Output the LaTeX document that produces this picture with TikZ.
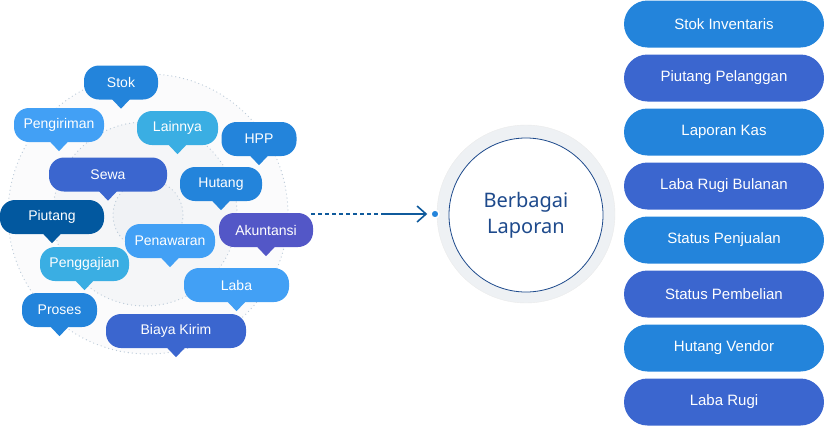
\documentclass[tikz,border=0pt]{standalone}
\usepackage{fontspec}
\setmainfont{Liberation Sans}
\newfontfamily\lapfont{Noto Sans}
\usetikzlibrary{arrows.meta}

\definecolor{midblue}{HTML}{2384DB}
\definecolor{skyblue}{HTML}{42A0F5}
\definecolor{cyanblue}{HTML}{3AAEE3}
\definecolor{royal}{HTML}{3B66CF}
\definecolor{deepblue}{HTML}{02589F}
\definecolor{indigo}{HTML}{5357C7}
\definecolor{navy}{HTML}{1E4A8C}
\definecolor{linecol}{HTML}{0F5A9C}
\definecolor{dotcol}{HTML}{BCCBD9}
\definecolor{ringcol}{HTML}{EEF1F4}
\definecolor{bgA}{HTML}{FBFBFC}
\definecolor{bgB}{HTML}{F5F6F8}
\definecolor{bgC}{HTML}{F0F2F5}

% tail under a speech bubble
\newcommand{\tail}[2]{\fill[#2] ([xshift=-9pt,yshift=0.5pt]#1.south) -- ([xshift=9pt,yshift=0.5pt]#1.south) -- ([yshift=-9pt]#1.south) -- cycle;}

\begin{document}
\begin{tikzpicture}[x=1pt, y=-1pt,
    bubble/.style={rounded corners=15pt, minimum height=34pt, inner sep=0pt, text=white, font=\fontsize{14}{16}\selectfont},
    pill/.style={rounded corners=23.5pt, minimum width=200pt, minimum height=47pt, inner sep=0pt, text=white, font=\fontsize{15}{18}\selectfont},
    dotring/.style={draw=dotcol, line width=1.3pt, dash pattern=on 0pt off 4pt, line cap=round}]

    \useasboundingbox (0,0) rectangle (824,426);

    % background rings
    \filldraw[dotring, fill=bgA] (148,214) circle (140pt);
    \filldraw[dotring, fill=bgB] (145,214) circle (92pt);
    \filldraw[dotring, fill=bgC] (148,215) circle (35pt);

    % bubbles
    \node[bubble, fill=midblue, minimum width=74pt] (stok) at (121,82.5) {Stok};
    \tail{stok}{midblue}
    \node[bubble, fill=skyblue, minimum width=90pt] (kirim) at (59,125) {Pengiriman};
    \tail{kirim}{skyblue}
    \node[bubble, fill=cyanblue, minimum width=81pt] (lain) at (177.5,128) {Lainnya};
    \tail{lain}{cyanblue}
    \node[bubble, fill=midblue, minimum width=75pt] (hpp) at (259,139) {HPP};
    \tail{hpp}{midblue}
    \node[bubble, fill=royal, minimum width=118pt] (sewa) at (108,174.5) {Sewa};
    \tail{sewa}{royal}
    \node[bubble, fill=midblue, minimum width=82pt] (hutang) at (221,184) {Hutang};
    \tail{hutang}{midblue}
    \node[bubble, fill=deepblue, minimum width=104pt] (piutang) at (52,217) {Piutang};
    \tail{piutang}{deepblue}
    \node[bubble, fill=indigo, minimum width=94pt] (akun) at (266,230) {Akuntansi};
    \tail{akun}{indigo}
    \node[bubble, fill=skyblue, minimum width=90pt] (tawar) at (170,241) {Penawaran};
    \tail{tawar}{skyblue}
    \node[bubble, fill=cyanblue, minimum width=89pt] (gaji) at (84.5,264) {Penggajian};
    \tail{gaji}{cyanblue}
    \node[bubble, fill=skyblue, minimum width=105pt] (laba) at (236.5,285) {Laba};
    \tail{laba}{skyblue}
    \node[bubble, fill=midblue, minimum width=75pt] (proses) at (59.5,310) {Proses};
    \tail{proses}{midblue}
    \node[bubble, fill=royal, minimum width=140pt] (biaya) at (176,331) {Biaya Kirim};
    \tail{biaya}{royal}

    % arrow to the report circle
    \node[circle, fill=ringcol, draw=black!8, minimum size=178pt] (ringbg) at (526,214) {};
    \node[circle, fill=white, draw=navy, line width=0.8pt, minimum size=154pt, align=center, text=navy, font=\lapfont\fontsize{20}{26}\selectfont] (lap) at (526,215) {Berbagai\\Laporan};
    \node[circle, fill=midblue, draw=white, line width=1.5pt, minimum size=8pt, inner sep=0pt] (pt) at (435,214) {};
    \coordinate (src) at (311,214);
    \coordinate (mid) at (382,214);
    \draw[linecol, line width=1.6pt, dash pattern=on 4pt off 3pt] (src) -- (mid);
    \draw[linecol, line width=1.6pt, -{Straight Barb[length=9pt,width=16pt]}] (mid) -- ([xshift=-3pt]pt.west);

    % report list
    \node[pill, fill=midblue] (r1) at (724,24) {Stok Inventaris};
    \node[pill, fill=royal] (r2) at (724,78) {Piutang Pelanggan};
    \node[pill, fill=midblue] (r3) at (724,132) {Laporan Kas};
    \node[pill, fill=royal] (r4) at (724,186) {Laba Rugi Bulanan};
    \node[pill, fill=midblue] (r5) at (724,240) {Status Penjualan};
    \node[pill, fill=royal] (r6) at (724,294) {Status Pembelian};
    \node[pill, fill=midblue] (r7) at (724,348) {Hutang Vendor};
    \node[pill, fill=royal] (r8) at (724,402) {Laba Rugi};
\end{tikzpicture}
\end{document}
